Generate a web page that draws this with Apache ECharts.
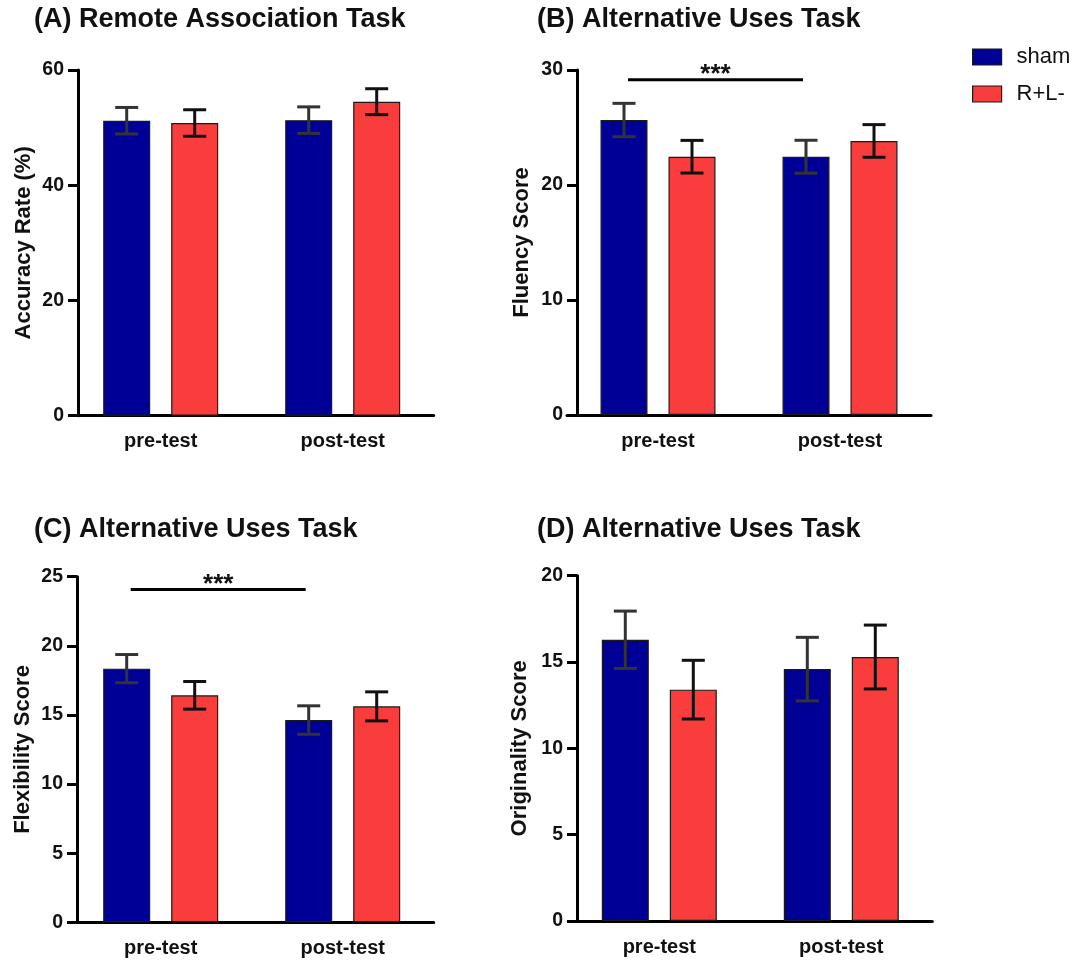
<!DOCTYPE html>
<html>
<head>
<meta charset="utf-8">
<style>
  html, body { margin: 0; padding: 0; background: #fff; }
  #chart { width: 1078px; height: 960px; }
</style>
<script src="https://cdn.jsdelivr.net/npm/echarts@6/dist/echarts.min.js"></script>
</head>
<body>
<div id="chart"></div>
<script>
// ---------------- DATA ----------------
const categories = ['pre-test', 'post-test'];
const seriesNames = ['sham', 'R+L-'];

const panelTitles = ['(A) Remote Association Task', '(B) Alternative Uses Task', '(C) Alternative Uses Task', '(D) Alternative Uses Task'];
const yAxisNames = ['Accuracy Rate (%)', 'Fluency Score', 'Flexibility Score', 'Originality Score'];
const yMax = [60, 30, 25, 20];
const yInterval = [20, 10, 5, 5];

// Panel A: Remote Association Task
const A_sham = [51.2, 51.3];
const A_sham_err = [2.3, 2.3];
const A_rl = [50.8, 54.5];
const A_rl_err = [2.3, 2.25];

// Panel B: Fluency
const B_sham = [25.65, 22.46];
const B_sham_err = [1.45, 1.43];
const B_rl = [22.46, 23.83];
const B_rl_err = [1.42, 1.42];

// Panel C: Flexibility
const C_sham = [18.35, 14.63];
const C_sham_err = [1.02, 1.03];
const C_rl = [16.42, 15.62];
const C_rl_err = [1.0, 1.05];

// Panel D: Originality
const D_sham = [16.29, 14.59];
const D_sham_err = [1.66, 1.84];
const D_rl = [13.4, 15.29];
const D_rl_err = [1.7, 1.85];

// Significance brackets: [fromCategory, toCategory, yValue, label] (null = none)
const sigA = null;
const sigB = [0, 1, 29.16, '***'];
const sigC = [0, 1, 24.08, '***'];
const sigD = null;

// ---------------- STYLE / LAYOUT ----------------
const FONT = 'Liberation Sans, Arial, sans-serif';
const BLUE = '#000096';
const RED = '#F93D3D';
const BAR_W = 47;
const BAR_GAP = 21;
const CAP = 23;
const OFF = (BAR_W + BAR_GAP) / 2;

const grids = [
  { left: 69.7, top: 70, width: 364, height: 345.7, axisX: 78, nameGap: 43 },
  { left: 567, top: 70, width: 364, height: 345, axisX: 577, nameGap: 44 },
  { left: 69.7, top: 576.7, width: 364, height: 345.6, axisX: 77, nameGap: 43 },
  { left: 568.3, top: 575.7, width: 364, height: 345.3, axisX: 577, nameGap: 46 }
];
const titlePos = [
  { left: 34, top: 6 }, { left: 537, top: 6 }, { left: 34, top: 516 }, { left: 537, top: 516 }
];

const panels = [
  { sham: A_sham, shamErr: A_sham_err, rl: A_rl, rlErr: A_rl_err, sig: sigA },
  { sham: B_sham, shamErr: B_sham_err, rl: B_rl, rlErr: B_rl_err, sig: sigB },
  { sham: C_sham, shamErr: C_sham_err, rl: C_rl, rlErr: C_rl_err, sig: sigC },
  { sham: D_sham, shamErr: D_sham_err, rl: D_rl, rlErr: D_rl_err, sig: sigD }
];

function errRender(offset, color) {
  return function (params, api) {
    const x = api.value(0);
    const lo = api.coord([x, api.value(1)]);
    const hi = api.coord([x, api.value(2)]);
    const cx = lo[0] + offset;
    const st = { stroke: color, lineWidth: 3 };
    return {
      type: 'group',
      children: [
        { type: 'line', shape: { x1: cx, y1: lo[1], x2: cx, y2: hi[1] }, style: st },
        { type: 'line', shape: { x1: cx - CAP / 2, y1: hi[1], x2: cx + CAP / 2, y2: hi[1] }, style: st },
        { type: 'line', shape: { x1: cx - CAP / 2, y1: lo[1], x2: cx + CAP / 2, y2: lo[1] }, style: st }
      ]
    };
  };
}

function sigRender(label) {
  return function (params, api) {
    const y = api.value(2);
    const p0 = api.coord([api.value(0), y]);
    const p1 = api.coord([api.value(1), y]);
    const x0 = p0[0] - OFF + 4;
    const x1 = p1[0] - OFF - 3;
    return {
      type: 'group',
      children: [
        { type: 'line', shape: { x1: x0, y1: p0[1], x2: x1, y2: p0[1] }, style: { stroke: '#000', lineWidth: 3 } },
        { type: 'text', style: { text: label, x: (x0 + x1) / 2, y: p0[1] + 8, align: 'center', verticalAlign: 'bottom', font: 'bold 26px ' + FONT, fill: '#111' } }
      ]
    };
  };
}

const option = {
  animation: false,
  backgroundColor: '#fff',
  title: panelTitles.map((t, i) => ({
    text: t, left: titlePos[i].left, top: titlePos[i].top, padding: 0,
    textStyle: { fontFamily: FONT, fontWeight: 'bold', fontSize: 27, color: '#111' }
  })),
  legend: {
    data: seriesNames,
    orient: 'vertical',
    left: 967, top: 41,
    icon: 'rect',
    itemWidth: 29, itemHeight: 16, itemGap: 15,
    textStyle: { fontFamily: FONT, fontSize: 22, color: '#111', padding: [0, 0, 0, 10] },
    itemStyle: { borderColor: '#1a1a1a', borderWidth: 1.2 }
  },
  grid: grids.map(g => ({ left: g.left, top: g.top, width: g.width, height: g.height, containLabel: false })),
  xAxis: grids.map((g, i) => ({
    type: 'category', gridIndex: i, data: categories,
    axisLine: { lineStyle: { color: '#000', width: 3 } },
    axisTick: { alignWithLabel: true, length: 10, lineStyle: { color: '#000', width: 3 } },
    axisLabel: { fontFamily: FONT, fontWeight: 'bold', fontSize: 20, color: '#111', margin: 16 }
  })),
  yAxis: grids.map((g, i) => ({
    type: 'value', gridIndex: i, min: 0, max: yMax[i], interval: yInterval[i],
    offset: g.left - g.axisX,
    name: yAxisNames[i], nameLocation: 'middle', nameGap: g.nameGap,
    nameTextStyle: { fontFamily: FONT, fontWeight: 'bold', fontSize: 22, color: '#111' },
    axisLine: { show: true, lineStyle: { color: '#000', width: 3 } },
    axisTick: { show: true, length: 10, lineStyle: { color: '#000', width: 3 } },
    axisLabel: { fontFamily: FONT, fontWeight: 'bold', fontSize: 19.5, color: '#111', margin: 14 },
    splitLine: { show: false }
  })),
  series: []
};

panels.forEach((p, i) => {
  option.series.push({
    name: 'sham', type: 'bar', xAxisIndex: i, yAxisIndex: i, data: p.sham,
    barWidth: BAR_W, barGap: (BAR_GAP / BAR_W * 100) + '%',
    itemStyle: { color: BLUE, borderColor: '#1a1a1a', borderWidth: 1.2 }
  });
  option.series.push({
    name: 'R+L-', type: 'bar', xAxisIndex: i, yAxisIndex: i, data: p.rl,
    barWidth: BAR_W, barGap: (BAR_GAP / BAR_W * 100) + '%',
    itemStyle: { color: RED, borderColor: '#1a1a1a', borderWidth: 1.2 }
  });
  option.series.push({
    type: 'custom', xAxisIndex: i, yAxisIndex: i, z: 5,
    data: p.sham.map((v, k) => [k, v - p.shamErr[k], v + p.shamErr[k]]),
    renderItem: errRender(-OFF, '#333')
  });
  option.series.push({
    type: 'custom', xAxisIndex: i, yAxisIndex: i, z: 5,
    data: p.rl.map((v, k) => [k, v - p.rlErr[k], v + p.rlErr[k]]),
    renderItem: errRender(OFF, '#111')
  });
  if (p.sig) {
    option.series.push({
      type: 'custom', xAxisIndex: i, yAxisIndex: i, z: 5,
      data: [[p.sig[0], p.sig[1], p.sig[2]]],
      renderItem: sigRender(p.sig[3])
    });
  }
});

const chart = echarts.init(document.getElementById('chart'), null, { renderer: 'canvas' });
chart.setOption(option);
</script>
</body>
</html>
